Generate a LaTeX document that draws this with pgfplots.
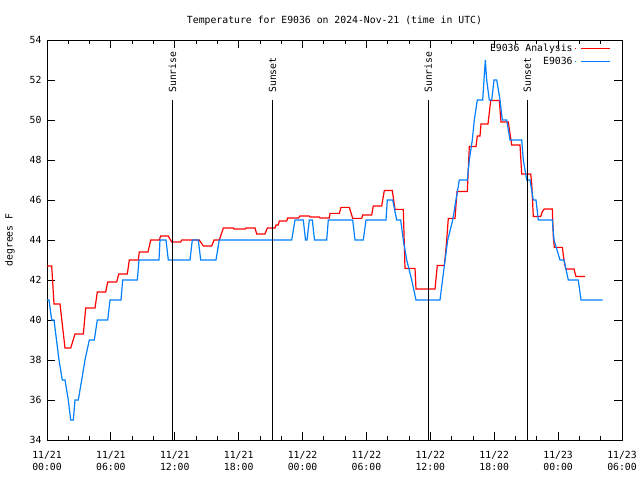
\documentclass[border=0pt]{standalone}
\usepackage{pgfplots}
\pgfplotsset{compat=1.18}
\usepackage{fontspec}
\setmainfont{DejaVu Sans Mono}
\definecolor{anared}{RGB}{255,0,0}
\definecolor{obsblue}{RGB}{0,128,255}
\pgfplotstableread{
h v
0 42.7
0.441 42.7
0.657 40.8
1.221 40.8
1.690 38.6
2.226 38.6
2.630 39.3
3.409 39.3
3.634 40.6
4.508 40.6
4.724 41.4
5.513 41.4
5.701 41.9
6.546 41.9
6.734 42.3
7.541 42.3
7.729 43.0
8.574 43.0
8.668 43.4
9.485 43.4
9.739 44.0
10.547 44.0
10.678 44.2
11.392 44.2
11.711 43.9
12.556 43.9
12.650 44.0
14.303 44.0
14.679 43.7
15.468 43.7
15.684 44.0
16.181 44.0
16.557 44.6
17.496 44.6
17.562 44.55
18.595 44.55
18.689 44.6
19.534 44.6
19.694 44.3
20.473 44.3
20.690 44.6
21.412 44.6
21.506 44.75
21.722 44.75
21.816 44.95
22.511 44.95
22.605 45.1
23.601 45.1
23.760 45.2
24.634 45.2
24.699 45.15
25.573 45.15
25.638 45.1
26.512 45.1
26.578 45.33
27.451 45.33
27.611 45.63
28.390 45.63
28.709 45.08
29.555 45.08
29.648 45.25
30.494 45.25
30.644 45.7
31.433 45.7
31.677 46.47
32.429 46.47
32.682 45.53
33.461 45.53
33.621 42.58
34.560 42.58
34.654 41.55
36.439 41.55
36.654 42.72
37.312 42.72
37.471 43.55
37.687 45.08
38.317 45.08
38.505 46.42
39.472 46.42
39.660 48.67
40.289 48.67
40.411 49.2
40.665 49.2
40.758 49.8
41.416 49.8
41.670 50.97
42.477 50.97
42.637 49.9
43.323 49.9
43.642 48.75
44.421 48.75
44.581 47.3
45.426 47.3
45.520 46.83
45.670 45.17
46.365 45.17
46.516 45.42
46.703 45.55
47.455 45.55
47.549 44.17
47.643 43.63
48.394 43.63
48.554 43.0
48.713 42.55
49.493 42.55
49.680 42.17
50.526 42.17
}\analysis
\pgfplotstableread{
h v
0 41
0.188 41
0.441 40
0.657 40
0.892 39
1.127 38
1.437 37
1.690 37
2.000 36
2.226 35
2.470 35
2.630 36
2.940 36
3.259 37
3.569 38
3.973 39
4.442 39
4.724 40
5.701 40
5.917 41
6.950 41
7.109 42
8.480 42
8.640 43
10.518 43
10.612 44
11.176 44
11.392 43
13.430 43
13.646 44
14.209 44
14.435 43
15.871 43
16.181 44
22.981 44
23.291 45
24.070 45
24.277 44
24.418 44
24.634 45
24.916 45
25.122 44
26.268 44
26.418 45
28.709 45
28.926 44
29.705 44
29.959 45
31.837 45
31.959 46
32.466 46
32.842 45
33.217 45
33.461 44
33.781 43
34.250 42
34.654 41
36.908 41
37.312 42.7
37.631 44
38.101 45
38.411 46
38.721 47
39.472 47
39.660 48
39.942 49
40.130 50
40.411 51
40.918 51
41.041 52
41.163 53
41.294 52
41.539 51
41.764 51
41.980 52
42.233 52
42.543 51
42.759 50
43.172 50
43.482 49
44.581 49
44.731 48
45.051 47
45.360 47
45.670 46
45.924 46
46.140 45
47.455 45
47.615 44
48.178 43
48.554 43
48.957 42
49.896 42
50.150 41
52.188 41
}\observed
\begin{document}
\fontsize{9.8bp}{12bp}\selectfont
\begin{tikzpicture}
\useasboundingbox (0,0) rectangle (640bp,480bp);
\begin{axis}[
  at={(47bp,40bp)}, anchor=south west,
  scale only axis, width=575bp, height=400bp,
  xmin=0, xmax=54, ymin=34, ymax=54,
  xtick={0,6,...,54},
  xticklabels={{11/21\\00:00},{11/21\\06:00},{11/21\\12:00},{11/21\\18:00},{11/22\\00:00},{11/22\\06:00},{11/22\\12:00},{11/22\\18:00},{11/23\\00:00},{11/23\\06:00}},
  xticklabel style={align=center, yshift=-8bp, font=\fontsize{9.8bp}{12bp}\selectfont},
  minor x tick num=2,
  ytick={34,36,...,54},
  yticklabel style={xshift=-2bp, font=\fontsize{9.8bp}{12bp}\selectfont},
  /pgf/number format/assume math mode=true,
  tick align=inside, tick pos=both,
  major tick length=8bp, minor tick length=4bp,
  every tick/.style={black, line width=0.8bp},
  axis line style={line width=0.8bp},
  title={Temperature for E9036 on 2024-Nov-21 (time in UTC)},
  title style={at={(0.5,1)}, anchor=base, yshift=11bp, font=\fontsize{9.8bp}{12bp}\selectfont},
  ylabel={degrees F},
  ylabel style={at={(axis description cs:-0.0643,0.5)}, anchor=center, rotate=0, font=\fontsize{9.8bp}{12bp}\selectfont},
  legend style={at={(1,1)}, anchor=north east, xshift=-11bp, yshift=-2bp, draw=none, fill=none, inner sep=0pt, row sep=0bp, font=\fontsize{9.8bp}{12bp}\selectfont},
  legend cell align=right,
  legend plot pos=right,
  legend image code/.code={\path (0bp,0bp) -- (1bp,0bp); \draw[#1] (6bp,0bp) -- (35bp,0bp);},
]
\addplot[anared, line width=1.2bp, line join=miter] table[x=h, y=v] {\analysis};
\addlegendentry{E9036 Analysis}
\addplot[obsblue, line width=1.2bp, line join=miter] table[x=h, y=v] {\observed};
\addlegendentry{E9036}
\draw[black, line width=1bp] (axis cs:11.786,34) -- (axis cs:11.786,51);
\draw[black, line width=1bp] (axis cs:21.177,34) -- (axis cs:21.177,51);
\draw[black, line width=1bp] (axis cs:35.81,34) -- (axis cs:35.81,51);
\draw[black, line width=1bp] (axis cs:45.11,34) -- (axis cs:45.11,51);
\node[rotate=90, anchor=west, inner sep=0pt] at (axis cs:11.786,51.35) {Sunrise};
\node[rotate=90, anchor=west, inner sep=0pt] at (axis cs:21.177,51.35) {Sunset};
\node[rotate=90, anchor=west, inner sep=0pt] at (axis cs:35.81,51.35) {Sunrise};
\node[rotate=90, anchor=west, inner sep=0pt] at (axis cs:45.11,51.35) {Sunset};
\end{axis}
\end{tikzpicture}
\end{document}
